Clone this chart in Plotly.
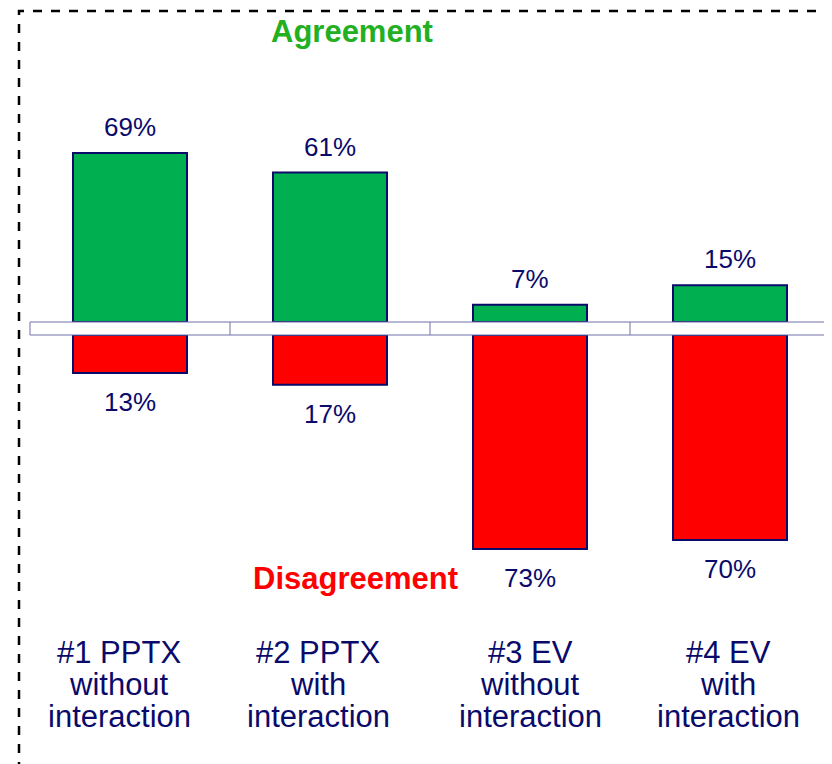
import plotly.graph_objects as go

# ---- data
cat_lines = [["#1 PPTX", "without", "interaction"],
             ["#2 PPTX", "with", "interaction"],
             ["#3 EV", "without", "interaction"],
             ["#4 EV", "with", "interaction"]]
agree = [69, 61, 7, 15]
disagree = [13, 17, 73, 70]

OFF = 8  # page body margin
FW, FH = 832 - OFF, 764 - OFF
NAVY = "#0a0a6b"
FONT = "Arial, Liberation Sans, sans-serif"

def py(p):
    # page pixel row -> paper y
    return 1 - (p - OFF) / FH

def px(p):
    return (p - OFF) / FW

xs = list(range(len(cat_lines)))
label_shift = [-11, -12, 0, -2]

fig = go.Figure()

fig.add_trace(go.Bar(
    x=xs, y=agree, width=0.57,
    marker=dict(color="#00b050", line=dict(color=NAVY, width=2)),
    xaxis="x", yaxis="y", hoverinfo="skip",
))
fig.add_trace(go.Bar(
    x=xs, y=[-v for v in disagree], width=0.57,
    marker=dict(color="#ff0000", line=dict(color=NAVY, width=2)),
    xaxis="x2", yaxis="y2", hoverinfo="skip",
))

annotations = []
for i, v in enumerate(agree):
    annotations.append(dict(x=i, y=v, xref="x", yref="y", text="{}%".format(v),
                            showarrow=False, yanchor="middle", yshift=26,
                            font=dict(family=FONT, size=26, color=NAVY)))
for i, v in enumerate(disagree):
    annotations.append(dict(x=i, y=-v, xref="x2", yref="y2", text="{}%".format(v),
                            showarrow=False, yanchor="middle", yshift=-29,
                            font=dict(family=FONT, size=26, color=NAVY)))
for i, lines in enumerate(cat_lines):
    for k, t in enumerate(lines):
        annotations.append(dict(x=i, y=py(652 + 32 * k), xref="x", yref="paper", text=t,
                                showarrow=False, yanchor="middle", xshift=label_shift[i],
                                font=dict(family=FONT, size=31, color=NAVY)))
annotations.append(dict(x=px(352), y=py(31), xref="paper", yref="paper",
                        text="<b>Agreement</b>", showarrow=False, yanchor="middle",
                        font=dict(family=FONT, size=31, color="#22b022")))
annotations.append(dict(x=px(355), y=py(578), xref="paper", yref="paper",
                        text="<b>Disagreement</b>", showarrow=False, yanchor="middle",
                        font=dict(family=FONT, size=31, color="#ff0000")))

shapes = [
    # dashed frame
    dict(type="rect", xref="paper", yref="paper", x0=px(19), x1=px(860), y0=py(800), y1=py(11),
         line=dict(color="black", width=2.5, dash="dash")),
    # flat axis band
    dict(type="rect", xref="x", yref="paper", x0=-0.5, x1=3.48, y0=py(335), y1=py(322),
         line=dict(color="#7070a8", width=1)),
]
for b in [0.5, 1.5, 2.5]:
    shapes.append(dict(type="line", xref="x", yref="paper", x0=b, x1=b, y0=py(335), y1=py(322),
                       line=dict(color="#7070a8", width=1)))

xr = [-(130 - OFF) / 200, (FW - 130 + OFF) / 200]
hidden = dict(visible=False, showgrid=False, zeroline=False)

fig.update_layout(
    width=FW, height=FH,
    margin=dict(l=0, r=0, t=0, b=0),
    paper_bgcolor="white", plot_bgcolor="rgba(0,0,0,0)",
    showlegend=False,
    xaxis=dict(range=xr, domain=[0, 1], anchor="y", **hidden),
    xaxis2=dict(range=xr, domain=[0, 1], anchor="y2", matches="x", **hidden),
    yaxis=dict(range=[0, (322 - 11) / 2.45], domain=[py(322), py(11)], anchor="x", **hidden),
    yaxis2=dict(range=[-(FH + OFF - 335) / 2.93, 0], domain=[0, py(335)], anchor="x2", **hidden),
    annotations=annotations,
    shapes=shapes,
)

fig.write_html("out.html")
